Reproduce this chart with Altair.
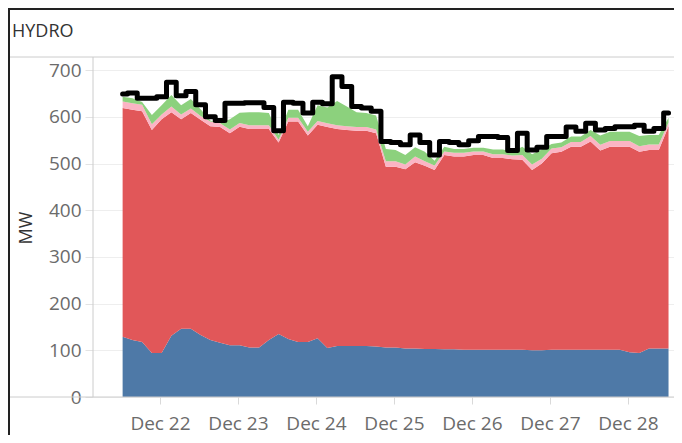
import altair as alt
import pandas as pd

# ---- data (3-hourly from Dec 21 12:30) ----
start_time = "2022-12-21T12:30:00"
series_names = ["Series A", "Series B", "Series C", "Series D"]
series_colors = ["#4e79a7", "#e15759", "#fbb4c4", "#8cd17d"]

blue = [129, 122, 118, 94, 94, 131, 146, 146, 133, 122, 116, 111, 111, 106, 106, 122,
        135, 124, 118, 118, 126, 105, 109, 109, 109, 109, 108, 106, 106, 104, 104, 103,
        103, 102, 102, 101, 101, 101, 101, 101, 101, 101, 100, 100, 101, 101, 101, 101,
        101, 101, 101, 101, 96, 94, 104, 104, 104]
red = [490, 493, 494, 478, 501, 479, 449, 462, 461, 458, 462, 454, 468, 468, 468, 452,
       410, 466, 472, 442, 457, 473, 465, 463, 461, 461, 457, 387, 387, 384, 399, 392,
       383, 416, 413, 414, 417, 417, 411, 411, 408, 407, 386, 400, 421, 424, 435, 435,
       446, 427, 435, 435, 440, 431, 425, 425, 476]
pink = [14, 14, 14, 12, 10, 12, 10, 10, 8, 10, 8, 8, 8, 8, 8, 8,
        6, 8, 8, 8, 8, 8, 8, 8, 8, 8, 8, 12, 12, 10, 12, 10,
        10, 8, 8, 8, 8, 8, 8, 8, 8, 10, 12, 10, 10, 10, 10, 10,
        12, 12, 12, 12, 12, 12, 12, 12, 8]
green = [10, 11, 6, 20, 20, 25, 20, 20, 14, 2, 0, 22, 22, 28, 28, 26,
         10, 17, 17, 12, 34, 34, 52, 42, 32, 30, 30, 26, 24, 20, 20, 20,
         10, 10, 8, 8, 8, 8, 10, 10, 8, 18, 22, 20, 10, 10, 12, 12,
         13, 20, 20, 20, 20, 22, 20, 20, 10]
black_line = [649, 651, 640, 640, 643, 674, 645, 654, 626, 600, 592, 629, 629, 630, 630, 620,
              570, 631, 629, 608, 631, 628, 686, 665, 622, 619, 612, 547, 545, 540, 561, 545,
              518, 547, 545, 540, 549, 558, 558, 556, 528, 565, 529, 535, 558, 558, 578, 569,
              586, 572, 575, 579, 579, 582, 569, 575, 608]

y_ticks = [0, 100, 200, 300, 400, 500, 600, 700]
tick_days = [22, 23, 24, 25, 26, 27, 28]

times = pd.date_range(start_time, periods=len(blue), freq="3h").strftime("%Y-%m-%dT%H:%M:%S")

rows = []
for i, t in enumerate(times):
    for o, (name, vals) in enumerate(zip(series_names, [blue, red, pink, green])):
        rows.append({"time": t, "series": name, "value": vals[i], "ord": o})
area_df = pd.DataFrame(rows)
line_df = pd.DataFrame({"time": times, "value": black_line})

W, H = 581, 339
FONT = "Open Sans"

x_enc = alt.X(
    "time:T",
    scale=alt.Scale(domain=[alt.DateTime(year=2022, month=12, date=21, hours=3, minutes=23),
                            alt.DateTime(year=2022, month=12, date=28, hours=14, minutes=11)]),
    axis=alt.Axis(values=[alt.DateTime(year=2022, month=12, date=d) for d in tick_days],
                  format="%b %d", title=None, grid=False, domain=False,
                  labelFont=FONT, labelFontSize=19, labelColor="#6b6b6b",
                  labelBaseline="alphabetic",
                  tickColor="#d9d9d9", tickSize=7, labelPadding=25, labelOverlap=False),
)
y_scale = alt.Scale(domain=[0, 726], nice=False)
y_axis = alt.Axis(values=y_ticks, title="MW", domain=False,
                  labelFont=FONT, labelFontSize=19, labelColor="#6b6b6b",
                  tickColor="#e3e3e3", tickSize=8, labelPadding=4,
                  gridColor="#eeeeee", titleFont=FONT, titleFontSize=18,
                  titleFontWeight="normal", titleColor="#333333", titlePadding=13)

areas = alt.Chart(area_df).mark_area(clip=True).encode(
    x=x_enc,
    y=alt.Y("value:Q", stack="zero", scale=y_scale, axis=y_axis),
    color=alt.Color("series:N", scale=alt.Scale(domain=series_names, range=series_colors), legend=None),
    order=alt.Order("ord:Q"),
)

line = alt.Chart(line_df).mark_line(color="black", strokeWidth=5, interpolate="step",
                                    strokeJoin="round", strokeCap="round").encode(
    x=alt.X("time:T"),
    y=alt.Y("value:Q"),
)

one = alt.Data(values=[{"a": 1}])
top_border = alt.Chart(one).mark_rule(color="#222222", strokeWidth=2).encode(
    x=alt.value(-85), x2=alt.value(W), y=alt.value(-49))
left_border = alt.Chart(one).mark_rule(color="#222222", strokeWidth=2).encode(
    x=alt.value(-84), y=alt.value(-50), y2=alt.value(H + 38))
header_line = alt.Chart(one).mark_rule(color="#cccccc", strokeWidth=1).encode(
    x=alt.value(-85), x2=alt.value(W), y=alt.value(-1))
pane_line = alt.Chart(one).mark_rule(color="#cccccc", strokeWidth=1).encode(
    x=alt.value(0), y=alt.value(-1), y2=alt.value(H))
bottom_line = alt.Chart(one).mark_rule(color="#cccccc", strokeWidth=1).encode(
    x=alt.value(-85), x2=alt.value(W), y=alt.value(H))
title_text = alt.Chart(one).mark_text(text="HYDRO", align="left", baseline="alphabetic",
                                      font=FONT, fontSize=18, color="#333333").encode(
    x=alt.value(-81), y=alt.value(-21))

chart = alt.layer(areas, line, header_line, pane_line, bottom_line, top_border, left_border,
                  title_text).properties(
    width=W, height=H,
    autosize=alt.AutoSizeParams(type="none"),
    padding={"left": 85, "top": 50, "right": 0, "bottom": 38},
).configure_view(stroke=None)

chart.save("out.html", embed_options={"renderer": "svg", "actions": False})
